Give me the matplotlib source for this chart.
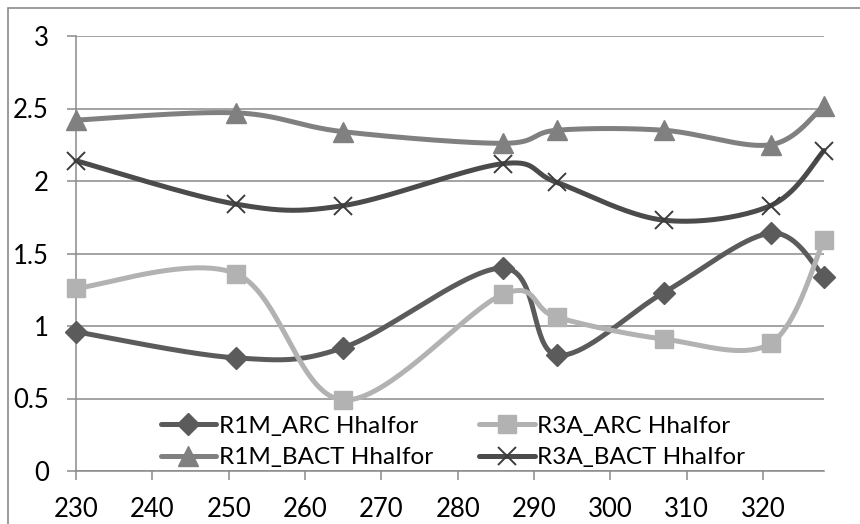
import numpy as np
import matplotlib.pyplot as plt
from matplotlib.patches import Rectangle

plt.rcParams['font.family'] = ['Lato', 'DejaVu Sans']

# wavelength positions and series values
x = [230, 251, 265, 286, 293, 307, 321, 328]
r1m_arc = [0.96, 0.78, 0.85, 1.40, 0.80, 1.23, 1.64, 1.34]
r3a_arc = [1.26, 1.36, 0.49, 1.22, 1.06, 0.91, 0.88, 1.59]
r1m_bact = [2.42, 2.47, 2.34, 2.26, 2.35, 2.35, 2.25, 2.52]
r3a_bact = [2.14, 1.84, 1.83, 2.12, 1.99, 1.73, 1.83, 2.21]
labels = ['R1M_ARC HhaIfor', 'R3A_ARC HhaIfor', 'R1M_BACT HhaIfor', 'R3A_BACT HhaIfor']


def smooth(xs, ys, n=40):
    # catmull-rom curve through the points, ends doubled
    p = np.column_stack([xs, ys]).astype(float)
    p = np.vstack([p[0], p, p[-1]])
    out = []
    t = np.linspace(0, 1, n)[:, None]
    for i in range(1, len(p) - 2):
        p0, p1, p2, p3 = p[i - 1], p[i], p[i + 1], p[i + 2]
        c1 = p1 + (p2 - p0) / 6
        c2 = p2 - (p3 - p1) / 6
        seg = ((1 - t) ** 3) * p1 + 3 * ((1 - t) ** 2) * t * c1 + 3 * (1 - t) * t ** 2 * c2 + t ** 3 * p2
        out.append(seg)
    out = np.vstack(out)
    return out[:, 0], out[:, 1]


fig = plt.figure(figsize=(8.6, 5.24), dpi=100)
ax = fig.add_axes([76 / 860, 1 - 471 / 524, 748 / 860, 435 / 524])

styles = [
    (r1m_arc, '#5b5b5b', 'D', 11, 1),
    (r3a_arc, '#b2b2b2', 's', 13, 1),
    (r1m_bact, '#808080', '^', 14, 1),
    (r3a_bact, '#4b4b4b', 'x', 13, 1.4),
]
handles = []
for (vals, col, mk, ms, mew), lab in zip(styles, labels):
    sx, sy = smooth(x, vals)
    ax.plot(sx, sy, color=col, lw=3.6, solid_capstyle='round', zorder=2, clip_on=False)
    mec = '#3c3c3c' if mk == 'x' else col
    ax.plot(x, vals, ls='none', marker=mk, ms=ms, mew=mew, color=col, mec=mec, zorder=3, clip_on=False)
    h, = ax.plot([], [], color=col, lw=3.6, marker=mk, ms=ms, mew=mew, mec=mec, solid_capstyle='round')
    handles.append(h)

ax.set_xlim(230, 328)
ax.set_ylim(0, 3)
ax.set_xticks(np.arange(230, 330, 10))
ax.set_yticks(np.arange(0, 3.01, 0.5))
ax.set_yticklabels(['0', '0.5', '1', '1.5', '2', '2.5', '3'])
ax.grid(axis='y', color='#8a8a8a', lw=1.1)
ax.set_axisbelow(True)
for s in ['top', 'right']:
    ax.spines[s].set_visible(False)
for s in ['left', 'bottom']:
    ax.spines[s].set_color('#8a8a8a')
    ax.spines[s].set_linewidth(1.1)
ax.tick_params(axis='both', length=6.5, width=1.1, color='#8a8a8a', labelsize=18.5)
ax.tick_params(axis='y', pad=13)
ax.tick_params(axis='x', pad=12)

# legend filled column by column: ARC row on top, BACT row below
order = [0, 2, 1, 3]
fig.legend([handles[i] for i in order], [labels[i] for i in order], loc='center',
           bbox_to_anchor=(453 / 860, 1 - 442 / 524), ncol=2,
           frameon=False, fontsize=17.5, handlelength=2.3, handletextpad=0.1,
           columnspacing=1.9, labelspacing=0.45)

# outer chart border
fig.patches.append(Rectangle((8 / 860, -0.1), 1.2, 1 - 8 / 524 + 0.1, transform=fig.transFigure,
                             fill=False, edgecolor='#8a8a8a', lw=1.2, zorder=0))

fig.savefig('out.png', dpi=100)
